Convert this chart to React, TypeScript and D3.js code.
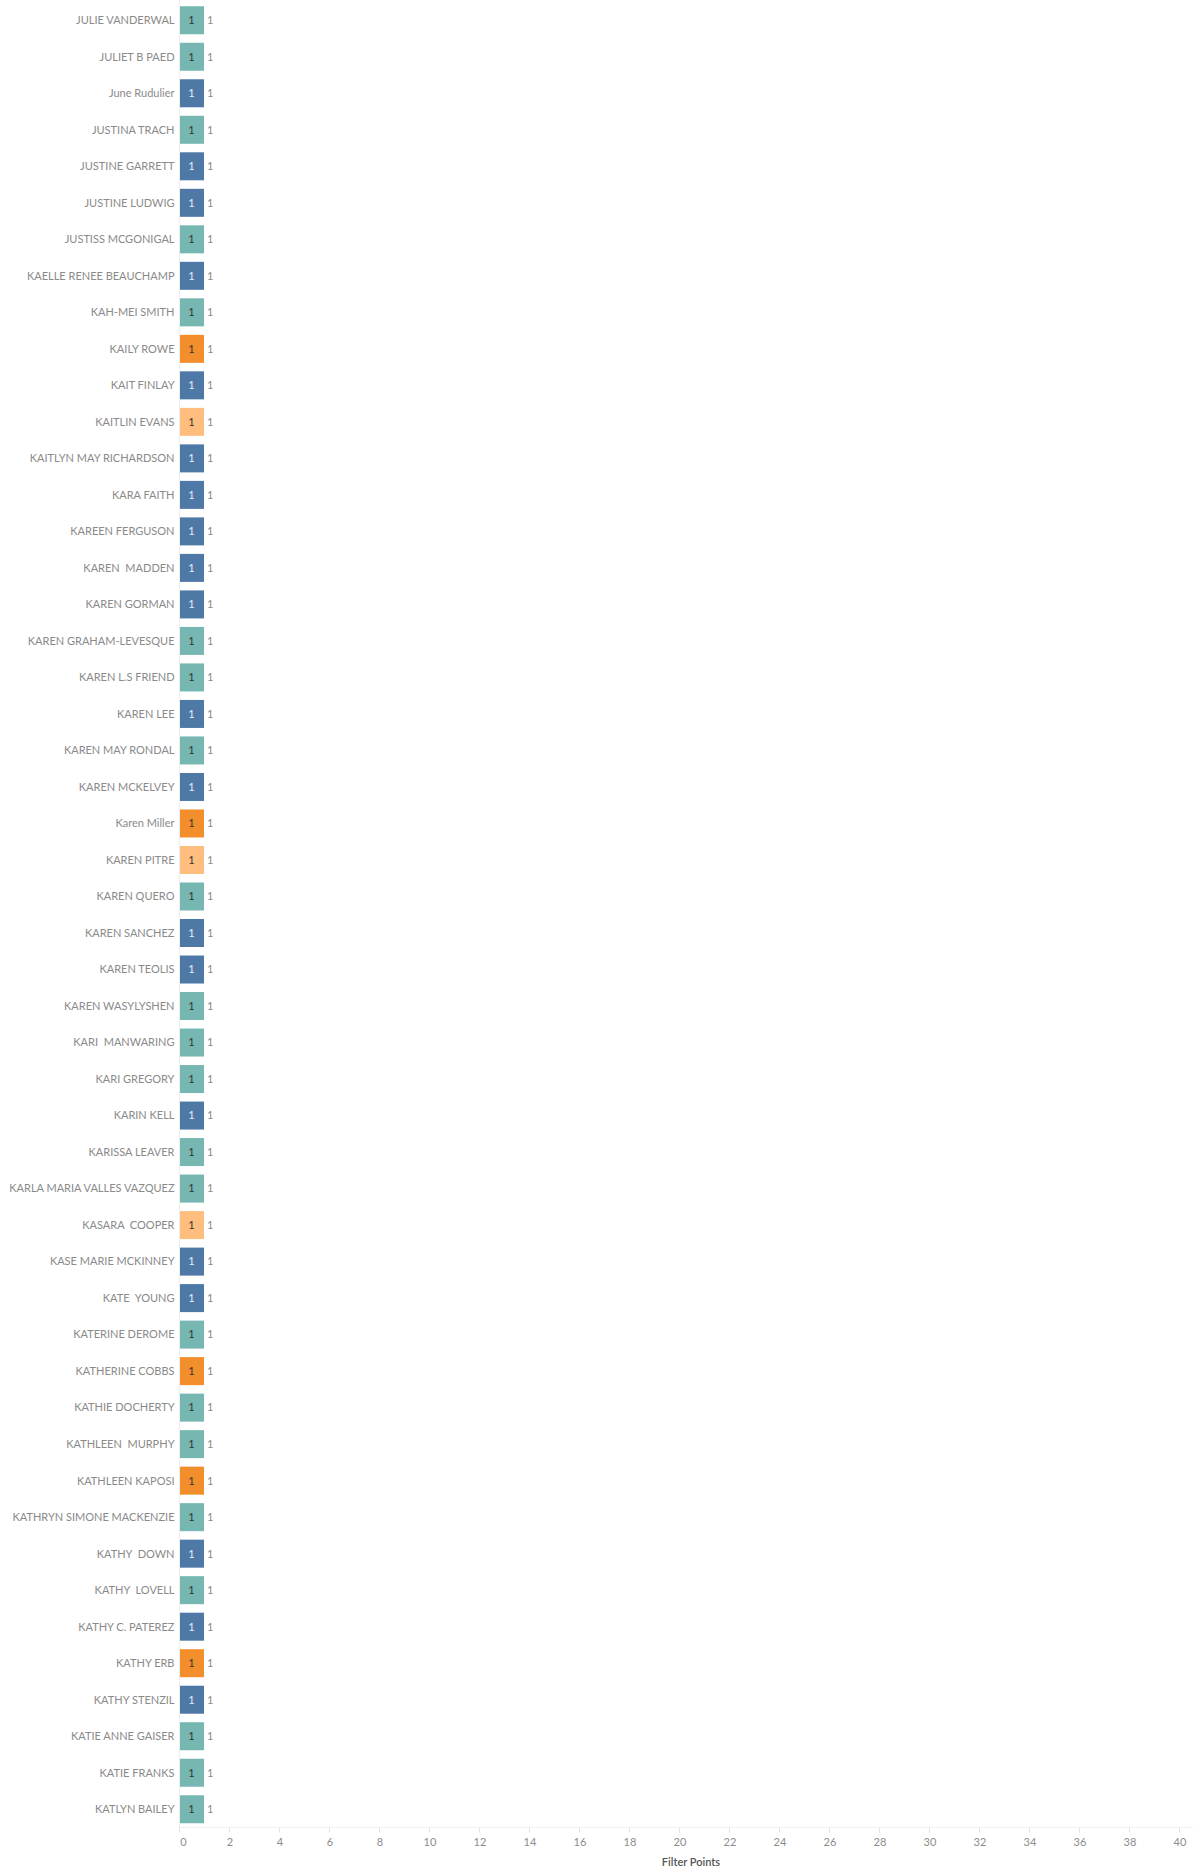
import React, { useEffect, useRef } from "react";
import * as d3 from "d3";

const names: string[] = [
  "JULIE VANDERWAL", "JULIET B PAED", "June Rudulier", "JUSTINA TRACH", "JUSTINE GARRETT",
  "JUSTINE LUDWIG", "JUSTISS MCGONIGAL", "KAELLE RENEE BEAUCHAMP", "KAH-MEI SMITH", "KAILY ROWE",
  "KAIT FINLAY", "KAITLIN EVANS", "KAITLYN MAY RICHARDSON", "KARA FAITH", "KAREEN FERGUSON",
  "KAREN  MADDEN", "KAREN GORMAN", "KAREN GRAHAM-LEVESQUE", "KAREN L.S FRIEND", "KAREN LEE",
  "KAREN MAY RONDAL", "KAREN MCKELVEY", "Karen Miller", "KAREN PITRE", "KAREN QUERO",
  "KAREN SANCHEZ", "KAREN TEOLIS", "KAREN WASYLYSHEN", "KARI  MANWARING", "KARI GREGORY",
  "KARIN KELL", "KARISSA LEAVER", "KARLA MARIA VALLES VAZQUEZ", "KASARA  COOPER", "KASE MARIE MCKINNEY",
  "KATE  YOUNG", "KATERINE DEROME", "KATHERINE COBBS", "KATHIE DOCHERTY", "KATHLEEN  MURPHY",
  "KATHLEEN KAPOSI", "KATHRYN SIMONE MACKENZIE", "KATHY  DOWN", "KATHY  LOVELL", "KATHY C. PATEREZ",
  "KATHY ERB", "KATHY STENZIL", "KATIE ANNE GAISER", "KATIE FRANKS", "KATLYN BAILEY",
];

const values: number[] = names.map(() => 1);

// category of each bar (colour group)
const groups: string[] = [
  "T", "T", "B", "T", "B", "B", "T", "B", "T", "O",
  "B", "L", "B", "B", "B", "B", "B", "T", "T", "B",
  "T", "B", "O", "L", "T", "B", "B", "T", "T", "T",
  "B", "T", "T", "L", "B", "B", "T", "O", "T", "T",
  "O", "T", "B", "T", "B", "O", "B", "T", "T", "T",
];

const groupKeys = ["T", "B", "O", "L"];
const groupColors = ["#76b7b2", "#4e79a7", "#f28e2b", "#ffbe7d"];
const groupText = ["#333333", "#e8eef5", "#333333", "#333333"];

const xTicks: number[] = d3.range(0, 41, 2);
const axisTitle = "Filter Points";

const W = 1193;
const H = 1868;
const FONT = "Lato, 'Open Sans', sans-serif";

export default function App() {
  const ref = useRef<SVGSVGElement>(null);

  useEffect(() => {
    const svg = d3.select(ref.current);
    svg.selectAll("*").remove();

    const x = d3.scaleLinear().domain([0, 40]).range([180, 1180]);
    const y = d3.scaleBand<string>().domain(names).range([2, 1827.5]).paddingInner(0.233).paddingOuter(0.1165);
    const color = d3.scaleOrdinal<string, string>().domain(groupKeys).range(groupColors);
    const tcolor = d3.scaleOrdinal<string, string>().domain(groupKeys).range(groupText);

    const axisY = 1827.5;

    // vertical zero line
    svg.append("line")
      .attr("x1", x(0) - 0.5).attr("x2", x(0) - 0.5)
      .attr("y1", 0).attr("y2", axisY + 5)
      .attr("stroke", "#ececec").attr("stroke-width", 1);

    // x axis line
    svg.append("line")
      .attr("x1", x(0) - 1).attr("x2", W)
      .attr("y1", axisY).attr("y2", axisY)
      .attr("stroke", "#efefef").attr("stroke-width", 1);

    // ticks
    const tg = svg.append("g");
    tg.selectAll("line.tick").data(xTicks).enter().append("line")
      .attr("x1", (d) => x(d) - 0.5).attr("x2", (d) => x(d) - 0.5)
      .attr("y1", axisY).attr("y2", axisY + 5)
      .attr("stroke", "#e2e2e2").attr("stroke-width", 1);
    tg.selectAll("text").data(xTicks).enter().append("text")
      .attr("x", (d) => x(d) + (d === 0 ? 3.5 : 0))
      .attr("y", 1842)
      .attr("dy", "0.35em")
      .attr("text-anchor", "middle")
      .attr("font-family", FONT)
      .attr("font-size", 11)
      .attr("fill", "#8c8c8c")
      .text((d) => String(d));

    // axis title
    svg.append("text")
      .attr("x", 691).attr("y", 1862)
      .attr("dy", "0.35em")
      .attr("text-anchor", "middle")
      .attr("font-family", FONT)
      .attr("font-size", 11)
      .attr("font-weight", 600)
      .attr("fill", "#555")
      .text(axisTitle);

    const rows = names.map((n, i) => ({ n, v: values[i], g: groups[i] }));

    const g = svg.append("g");
    // name labels
    g.selectAll("text.name").data(rows).enter().append("text")
      .attr("class", "name")
      .attr("x", 174.5)
      .attr("y", (d) => (y(d.n) as number) + y.bandwidth() / 2)
      .attr("dy", "0.35em")
      .attr("text-anchor", "end")
      .attr("font-family", FONT)
      .attr("font-size", 11)
      .attr("fill", "#8a8a8a")
      .style("white-space", "pre")
      .text((d) => d.n);

    // bars
    g.selectAll("rect").data(rows).enter().append("rect")
      .attr("x", x(0))
      .attr("y", (d) => y(d.n) as number)
      .attr("width", (d) => x(d.v) - x(0) - 1)
      .attr("height", y.bandwidth())
      .attr("fill", (d) => color(d.g));

    // inside labels
    g.selectAll("text.in").data(rows).enter().append("text")
      .attr("class", "in")
      .attr("x", (d) => (x(0) + x(d.v)) / 2 - 1)
      .attr("y", (d) => (y(d.n) as number) + y.bandwidth() / 2)
      .attr("dy", "0.35em")
      .attr("text-anchor", "middle")
      .attr("font-family", FONT)
      .attr("font-size", 11)
      .attr("fill", (d) => tcolor(d.g))
      .text((d) => String(d.v));

    // outside labels
    g.selectAll("text.out").data(rows).enter().append("text")
      .attr("class", "out")
      .attr("x", (d) => x(d.v) + 2)
      .attr("y", (d) => (y(d.n) as number) + y.bandwidth() / 2)
      .attr("dy", "0.35em")
      .attr("text-anchor", "start")
      .attr("font-family", FONT)
      .attr("font-size", 11)
      .attr("fill", "#888")
      .text((d) => String(d.v));
  }, []);

  return (
    <svg
      ref={ref}
      width={W}
      height={H}
      style={{ position: "absolute", left: 0, top: 0, background: "#fff" }}
    />
  );
}
